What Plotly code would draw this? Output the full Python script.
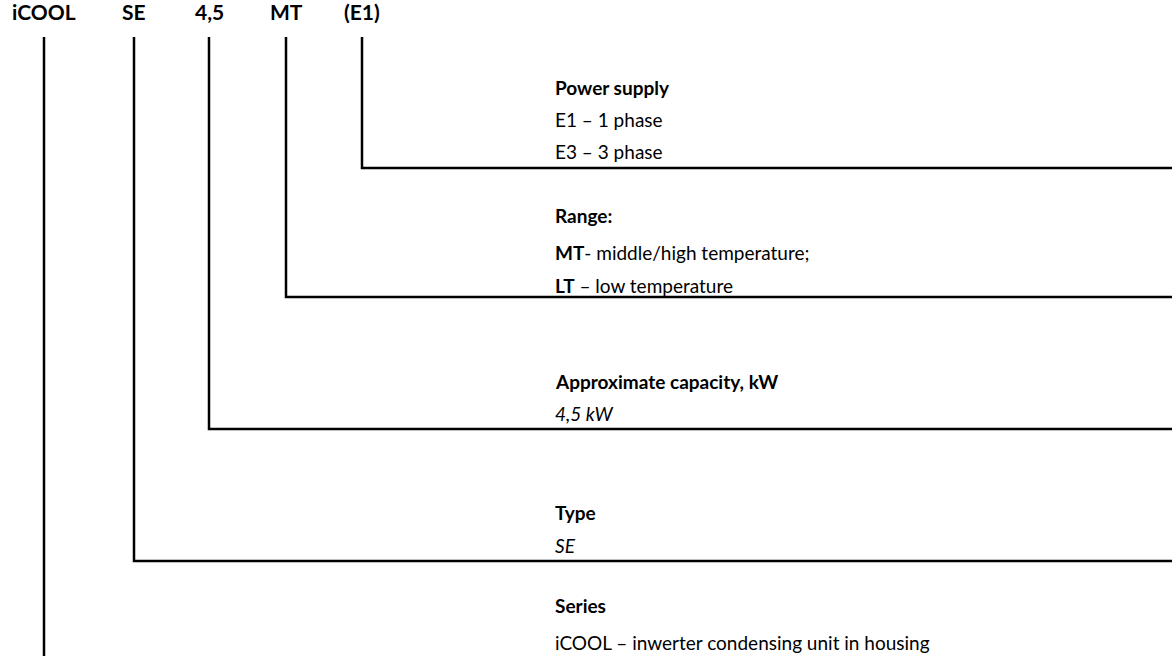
import plotly.graph_objects as go

# Code parts in the header and their connector positions (pixel space 1172x656)
codes = ["iCOOL", "SE", "4,5", "MT", "(E1)"]
code_x = [44, 134, 209, 286, 362]
line_x = [44, 134, 209, 286, 362]
line_y = [None, 561, 429, 297, 168]   # horizontal leader y (None = runs to bottom)
header_y = 11
line_top = 37

# Description text blocks (html-formatted), with their y positions
desc_lines = [
    ("<b>Power supply</b>", 87),
    ("E1 – 1 phase", 119),
    ("E3 – 3 phase", 151),
    ("<b>Range:</b>", 215),
    ("<b>MT</b>- middle/high temperature;", 252),
    ("<b>LT</b> – low temperature", 285),
    ("<b>Approximate capacity, kW</b>", 381),
    ("<i>4,5 kW</i>", 413),
    ("<b>Type</b>", 512),
    ("<i>SE</i>", 545),
    ("<b>Series</b>", 605),
    ("iCOOL – inwerter condensing unit in housing", 642),
]
desc_x = 553

W, H = 1172, 656
FONT = "Lato, 'Open Sans', sans-serif"

fig = go.Figure()
for lx, ly in zip(line_x, line_y):
    if ly is None:
        xs, ys = [lx, lx], [line_top, H]
    else:
        xs, ys = [lx, lx, W], [line_top, ly, ly]
    fig.add_trace(go.Scatter(x=xs, y=ys, mode="lines",
                             line=dict(color="black", width=2.5),
                             hoverinfo="skip", showlegend=False))

annotations = []
for c, cx in zip(codes, code_x):
    annotations.append(dict(x=cx, y=header_y, text=f"<b>{c}</b>", showarrow=False,
                            xanchor="center", yanchor="middle",
                            font=dict(family=FONT, size=21, color="black")))
for t, ty in desc_lines:
    annotations.append(dict(x=desc_x, y=ty, text=t, showarrow=False,
                            xanchor="left", yanchor="middle",
                            font=dict(family=FONT, size=19, color="black")))

fig.update_layout(
    width=W, height=H,
    margin=dict(l=0, r=0, t=0, b=0),
    paper_bgcolor="white", plot_bgcolor="white",
    xaxis=dict(range=[0, W], visible=False, fixedrange=True),
    yaxis=dict(range=[H, 0], visible=False, fixedrange=True),
    annotations=annotations,
)
fig.write_html(
    "out.html",
    config={"displayModeBar": False},
    post_script="document.body.style.margin='0';document.body.style.overflow='hidden';",
)
